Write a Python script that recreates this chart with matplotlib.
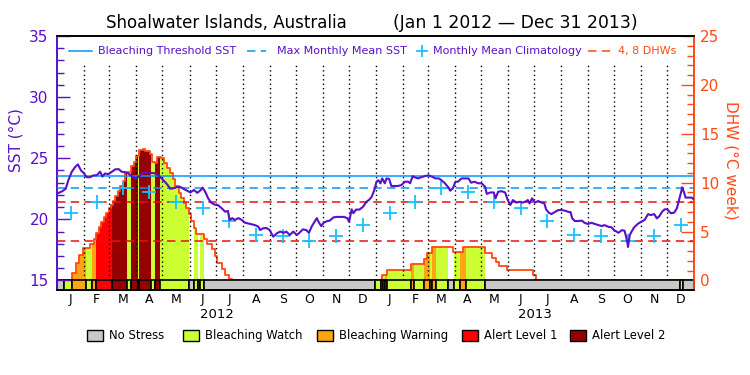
import numpy as np
import pandas as pd
import matplotlib
matplotlib.use("Agg")
import matplotlib.pyplot as plt
from matplotlib.patches import Rectangle
from matplotlib.ticker import MultipleLocator

# Objectives
# NOAA Coral Reef Watch style SST / DHW chart, Shoalwater Islands 2012-2013
# x values are days since Jan 1 2012

sst_day = [0, 6, 10, 13, 17, 21, 24, 27.5, 30.5, 34, 38, 42, 45.5, 49.5, 52, 55, 59, 63, 67, 71,
           74, 78, 82, 86, 90, 94, 97, 101, 105, 109, 113, 116, 120, 124, 127, 130, 134, 138, 141.5, 145,
           149, 153, 157, 161, 165, 167, 170, 173.5, 177, 181, 185, 189, 193, 196, 198, 201, 204, 208, 212, 215.5,
           219, 223, 227, 231, 233, 236, 240, 244, 248, 252, 256, 260, 263, 267, 271, 275, 278, 282, 286, 289,
           292, 296, 298, 300, 303, 306, 310, 313, 317, 321, 325, 329, 333, 335, 338, 340, 343, 347, 351, 355,
           358, 361, 364, 366.5, 368.5, 371, 373, 376, 378, 381, 383.5, 387, 391, 395, 399, 403, 405, 408, 410, 414,
           418, 422, 426, 430, 434, 438, 441, 445, 449, 451, 454, 457, 460, 464, 468, 472, 475, 479, 483, 487,
           491, 493, 497, 501, 503, 506, 510, 514, 517, 520, 523, 527, 531, 534, 537, 540, 542, 545, 548, 552,
           556, 559, 561, 564, 567, 571, 575, 579, 583, 587, 589, 591, 594, 598, 602, 605, 609, 613, 617, 621,
           625, 628, 632, 636, 639, 644, 648, 651, 653, 655, 657, 659, 662, 666, 670, 674, 678, 681, 685, 688,
           691, 694, 697, 700, 704, 708, 711, 714, 716, 717, 719, 721, 724, 728, 730]
sst_val = [22.1, 22.3, 22.5, 23.2, 23.9, 24.3, 24.5, 24.0, 23.8, 23.45, 23.45, 23.6, 23.6, 23.9, 23.5, 23.75, 23.7, 23.9, 24.1, 24.1,
           23.9, 23.85, 23.75, 23.5, 23.35, 23.5, 23.75, 23.85, 23.75, 23.8, 23.75, 23.6, 23.35, 23.05, 22.8, 22.5, 22.55, 22.65, 22.65, 22.5,
           22.35, 22.2, 22.4, 22.17, 22.4, 22.6, 22.26, 21.7, 21.36, 21.2, 21.15, 20.9, 20.62, 20.7, 19.95, 20.1, 19.95, 20.1, 19.95, 19.73,
           19.67, 19.6, 19.53, 19.4, 19.12, 19.26, 19.3, 19.12, 18.58, 18.85, 19.0, 18.9, 19.0, 18.72, 19.0, 18.72, 18.9, 19.18, 19.12, 18.9,
           19.4, 19.86, 20.1, 19.8, 19.45, 19.73, 19.86, 19.9, 20.16, 20.2, 20.2, 20.2, 20.1, 19.8, 20.82, 20.5, 20.8, 20.8, 21.03, 21.44,
           21.6, 21.85, 22.4, 23.08, 23.2, 22.95, 23.35, 22.95, 23.35, 23.3, 22.73, 22.73, 22.73, 22.8, 23.08, 23.08, 22.95, 23.54, 23.45, 23.35,
           23.45, 23.54, 23.6, 23.5, 23.35, 23.35, 23.2, 22.95, 22.6, 22.34, 22.53, 23.08, 23.08, 23.35, 23.35, 23.35, 23.0, 23.08, 22.95, 22.95,
           22.67, 22.08, 22.2, 22.2, 21.72, 22.26, 22.3, 22.2, 21.58, 21.17, 21.58, 21.37, 21.44, 21.37, 21.44, 21.58, 21.3, 21.72, 21.37, 21.5,
           21.37, 21.3, 20.82, 20.55, 20.43, 20.6, 20.76, 20.76, 20.7, 20.6, 20.6, 20.08, 19.86, 19.86, 19.9, 19.72, 19.62, 19.72, 19.62, 19.53,
           19.45, 19.53, 19.4, 19.35, 19.12, 18.9, 19.12, 19.07, 18.52, 17.76, 18.72, 18.99, 19.35, 19.62, 19.8, 19.95, 20.43, 20.35, 20.43, 20.08,
           20.26, 20.62, 20.82, 20.82, 20.5, 20.55, 20.9, 21.72, 22.26, 22.62, 22.26, 21.78, 21.78, 21.78, 21.66]

# monthly mean climatology (Jan..Dec), repeated for both years
clim_sst = [20.5, 21.45, 22.55, 22.2, 21.45, 20.9, 19.9, 18.7, 18.6, 18.25, 18.6, 19.55]
mmm_sst = 22.54
threshold_sst = 23.54
dhw_levels = [4, 8]

# degree heating weeks, step changes (start day, value)
dhw_day = [0, 17.2, 22.2, 24.8, 29.8, 38.2, 42, 45.1, 47.8, 50.4, 53.5, 56.6, 59.2, 61.9, 64.2, 66.9, 69.9, 72.6, 75.7,
           78.3, 84.8, 87.9, 91, 93.6, 98.6, 101.3, 107, 109, 112, 114.7, 119.2, 122.3, 126, 130, 133, 135.7, 139.5,
           142.2, 145.2, 148.3, 151, 154, 156.7, 159.8, 168.2, 171.6, 177.3, 181, 184, 189, 193, 197, 200.8,
           372.3, 378, 405.9, 420.8, 423.9, 430.3, 454.4, 465.8, 490.7, 498.4, 504.1, 507.2, 515.6, 546.1, 549.2]
dhw_val = [0, 0.74, 1.76, 2.6, 3.29, 3.73, 4.28, 4.82, 5.44, 6.0, 6.46, 6.93, 7.38, 7.72, 8.16, 8.64, 9.18, 9.66, 10.2,
           11.13, 11.71, 12.15, 12.73, 13.34, 13.41, 13.24, 12.94, 12.15, 12.05, 12.66, 12.49, 12.0, 11.47, 10.96, 10.35, 9.66, 8.91,
           8.4, 7.89, 7.38, 6.8, 6.1, 5.33, 4.75, 4.21, 3.73, 3.19, 2.5, 1.76, 1.18, 0.56, 0.12, 0,
           0.56, 1.07, 1.65, 2.2, 2.78, 3.39, 2.95, 3.39, 2.78, 2.27, 1.93, 1.52, 1.07, 0.56, 0]

# stress level periods (start day, level): 0 none, 1 watch, 2 warning, 3 alert 1, 4 alert 2
stress_day = [0, 7.7, 17.2, 33.6, 40.5, 45, 63.1, 80.3, 84.9, 92.5, 94.4, 107.8, 112.7, 118.4, 151, 156.8, 161.7, 163.6, 168.9,
              364.6, 371.5, 374.1, 376, 378.7, 405.5, 409.7, 420.8, 427.6, 430.3, 434.5, 448.7, 455.2, 462, 469.7, 490.7,
              714.3, 718]
stress_level = [0, 1, 2, 1, 2, 3, 4, 1, 4, 1, 4, 1, 4, 1, 0, 1, 0, 1, 0,
                1, 2, 1, 2, 1, 2, 1, 2, 1, 2, 1, 0, 1, 2, 1, 0,
                1, 0]
stress_names = ["No Stress", "Bleaching Watch", "Bleaching Warning", "Alert Level 1", "Alert Level 2"]
stress_colors = ["#c8c8c8", "#ccff33", "#ffa514", "#ff0000", "#960000"]

month_letters = list("JFMAMJJASOND") * 2
years = ["2012", "2013"]

# colours
purple = "#5a10c8"
orange = "#ff4a14"
blue = "#0096ff"
cyan = "#18c0ff"
red = "#e81010"

n_days = 731
sst_lim = (14.22, 35.0)
dhw_lim = ((sst_lim[0] - 15) * 1.25, (sst_lim[1] - 15) * 1.25)

months = pd.date_range("2012-01-01", "2014-01-01", freq="MS")
month_start = np.array((months - months[0]).days, dtype=float)
month_mid = (month_start[:-1] + month_start[1:]) / 2


def dhw_at(x):
    return dhw_val[np.searchsorted(dhw_day, x, side="right") - 1]


fig = plt.figure(figsize=(7.5, 3.75), dpi=100)
ax_dhw = fig.add_axes([57 / 750, 1 - 290 / 375, (694.3 - 57) / 750, 254 / 375])
ax_sst = ax_dhw.twinx()
ax_sst.yaxis.set_ticks_position("left")
ax_sst.yaxis.set_label_position("left")
ax_dhw.yaxis.set_ticks_position("right")

ax_dhw.set_xlim(0, n_days)
ax_dhw.set_ylim(*dhw_lim)
ax_sst.set_ylim(*sst_lim)

stress_end = stress_day[1:] + [n_days]

# DHW fill coloured by stress level (one polygon per stress period)
for s, e, lev in zip(stress_day, stress_end, stress_level):
    if lev == 0:
        continue
    xs = [s] + [d for d in dhw_day if s < d < e] + [e]
    ys = [dhw_at(x) for x in xs[:-1]]
    ys.append(ys[-1])
    ax_dhw.fill_between(xs, ys, 0, step="post", facecolor=stress_colors[lev], lw=0, zorder=2)

ax_dhw.step(dhw_day + [n_days], dhw_val + [0], where="post", color=orange, lw=1.3, zorder=3)

# stress bar along the bottom
for s, e, lev in zip(stress_day, stress_end, stress_level):
    ax_dhw.bar(s, -dhw_lim[0], bottom=dhw_lim[0], width=e - s, align="edge",
               color=stress_colors[lev], edgecolor="black", lw=1.2, zorder=5, clip_on=False)

# month separators
dot_top = (32.63 - 15) * 1.25
ax_dhw.vlines(month_start[1:-1], 0, dot_top, colors="black", linestyles=(0, (1, 2.2)), lw=1, zorder=4)

for lv in dhw_levels:
    ax_dhw.axhline(lv, color=red, lw=1.1, ls=(0, (5.5, 3.5)), zorder=4)

# SST side
ax_sst.axhline(threshold_sst, color=blue, lw=1.1, zorder=3)
ax_sst.axhline(mmm_sst, color=blue, lw=1.1, ls=(0, (5.5, 3.5)), zorder=3)
ax_sst.plot(month_mid, clim_sst * 2, ls="none", marker="+", ms=10, mew=1.3, color=cyan, zorder=4)
ax_sst.plot(sst_day, sst_val, color=purple, lw=1.5, zorder=6)

# axes styling
for ax in (ax_dhw, ax_sst):
    ax.spines["left"].set_color(purple)
    ax.spines["right"].set_color(orange)
    ax.spines["top"].set_color("black")
    ax.spines["bottom"].set_color("black")
    for sp in ax.spines.values():
        sp.set_linewidth(1.2)

ax_sst.yaxis.set_major_locator(MultipleLocator(5))
ax_sst.yaxis.set_minor_locator(MultipleLocator(1))
ax_sst.tick_params(axis="y", which="both", direction="in", colors=purple, labelsize=11, width=1, pad=6)
ax_sst.tick_params(axis="y", which="major", length=9.5)
ax_sst.tick_params(axis="y", which="minor", length=5)
ax_sst.tick_params(axis="x", bottom=False, labelbottom=False)

ax_dhw.set_yticks(np.arange(0, 26, 5))
ax_dhw.yaxis.set_minor_locator(MultipleLocator(1))
ax_dhw.set_ylim(*dhw_lim)
ax_dhw.tick_params(axis="y", which="both", direction="in", colors=orange, labelsize=11, width=1, pad=4)
ax_dhw.tick_params(axis="y", which="major", length=9.5)
ax_dhw.tick_params(axis="y", which="minor", length=5)

ax_dhw.set_xticks(month_mid)
ax_dhw.set_xticklabels(month_letters)
ax_dhw.tick_params(axis="x", length=0, pad=2, labelsize=9)
for i, y in enumerate(years):
    ax_dhw.text(month_start[12 * i] + (month_start[12 * i + 12] - month_start[12 * i]) / 2, -(315 - 290) / 254, y,
                transform=ax_dhw.get_xaxis_transform(), ha="center", va="center", fontsize=9.5)

fig.text(16 / 750, 1 - 140 / 375, "SST (°C)", rotation=90, ha="center", va="center", color=purple, fontsize=11)
fig.text(731 / 750, 1 - 160 / 375, "DHW (°C week)", rotation=270, ha="center", va="center", color=orange, fontsize=11)

# title
fig.text(226 / 750, 1 - 23 / 375, "Shoalwater Islands, Australia", ha="center", va="center", fontsize=12)
fig.text(515 / 750, 1 - 23 / 375, "(Jan 1 2012 \u2014 Dec 31 2013)", ha="center", va="center", fontsize=12.4)

# top legend (inside plot)
def px_x(x):
    return (x - 57) / (694.3 - 57)

leg_y = 1 - 15 / 254
tr = ax_sst.transAxes
leg_fs = 8
ax_sst.plot([px_x(69), px_x(92)], [leg_y, leg_y], color=blue, lw=1.1, transform=tr)
ax_sst.text(px_x(98), leg_y, "Bleaching Threshold SST", transform=tr, va="center", color=purple, fontsize=leg_fs)
ax_sst.plot([px_x(247), px_x(266)], [leg_y, leg_y], color=blue, lw=1.1, ls=(0, (5.5, 3.5)), transform=tr)
ax_sst.text(px_x(277), leg_y, "Max Monthly Mean SST", transform=tr, va="center", color=purple, fontsize=leg_fs)
ax_sst.plot([px_x(422.5)], [leg_y], marker="+", ms=9, mew=1.3, color=cyan, transform=tr)
ax_sst.text(px_x(433), leg_y, "Monthly Mean Climatology", transform=tr, va="center", color=purple, fontsize=leg_fs)
ax_sst.plot([px_x(588), px_x(612)], [leg_y, leg_y], color=orange, lw=1.1, ls=(0, (5.5, 3.5)), transform=tr)
ax_sst.text(px_x(618), leg_y, "4, 8 DHWs", transform=tr, va="center", color=orange, fontsize=leg_fs)

# bottom legend
box_x = [87.3, 183.3, 317.3, 462, 570]
for bx, name, col in zip(box_x, stress_names, stress_colors):
    fig.add_artist(Rectangle((bx / 750, 1 - 340.7 / 375), 16 / 750, 10.7 / 375,
                             transform=fig.transFigure, facecolor=col, edgecolor="black", lw=1))
    fig.text((bx + 22) / 750, 1 - 335.3 / 375, name, ha="left", va="center", fontsize=8.4)

plt.savefig("out.png", dpi=100)
